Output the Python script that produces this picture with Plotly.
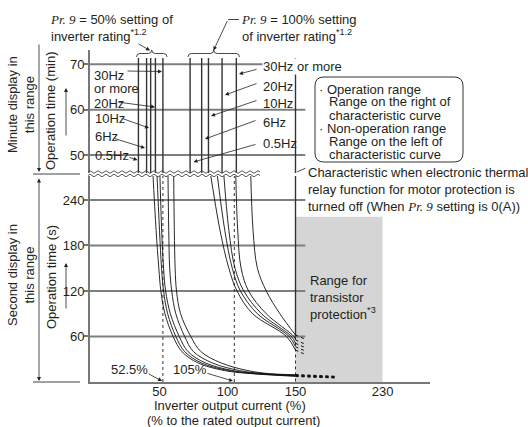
import numpy as np
import plotly.graph_objects as go

# ---------------- data ----------------
x_tick_vals = [50, 100, 150, 230]
y_sec_ticks = [60, 120, 180, 240]
y_min_ticks = [50, 60, 70]
ref_pcts = [52.5, 105]          # dotted reference currents
thermal_off_pct = 150
off_solid_until_s = 60
transistor_range = [150, 230]
transistor_top_s = 218

# minute range: vertical asymptotes (0.5Hz, 6Hz, 10Hz, 20Hz, 30Hz or more)
min_50_x = [34.5, 40.5, 43.5, 47.0, 52.5]
min_100_x = [72.5, 81.0, 86.0, 96.0, 106.5]
min_top = 71.4

# second range, Pr.9 = 50 % family
c50_t = [
    [280, 200, 150, 120, 90, 60, 40, 25, 15, 11, 7.5],
    [280, 200, 150, 120, 90, 60, 40, 25, 15, 11, 8.0],
    [280, 200, 150, 120, 90, 60, 40, 25, 15, 11, 8.5],
    [280, 200, 150, 120, 90, 60, 40, 25, 15, 11, 9.0],
    [280, 200, 150, 120, 90, 60, 40, 25, 15, 11, 9.6],
]
c50_x = [
    [45.0, 47.5, 49.5, 51.0, 54.0, 60.0, 66.5, 78.5, 98, 118, 150],
    [48.0, 50.0, 51.5, 53.0, 56.0, 62.0, 68.5, 81.0, 101, 120.5, 150],
    [50.2, 51.6, 53.0, 54.5, 58.0, 64.5, 71.0, 84.0, 104, 123, 150],
    [56.2, 56.8, 57.5, 59.0, 62.0, 68.5, 75.0, 89.0, 109, 127, 150],
    [60.4, 60.9, 61.5, 62.5, 65.5, 73.0, 80.5, 95.5, 115, 131, 150],
]
c50_tail_x = [150, 188]
c50_tail_drop = 2.2

# second range, Pr.9 = 100 % family
c100_t = [
    [280, 200, 150, 120, 90, 60, 42],
    [280, 200, 150, 120, 90, 60, 46.5],
    [280, 200, 150, 120, 90, 60, 51],
    [280, 200, 150, 120, 90, 60, 55.5],
    [280, 200, 150, 120, 90, 62],
]
c100_x = [
    [87.0, 94.5, 101.0, 107.0, 118.5, 143.4, 150],
    [92.0, 98.0, 103.5, 109.5, 122.0, 145.3, 150],
    [97.0, 101.0, 105.5, 112.0, 125.0, 147.0, 150],
    [106.0, 107.5, 110.0, 115.5, 128.5, 148.8, 150],
    [117.0, 118.8, 122.0, 128.5, 138.5, 150],
]
c100_tail_x = [150, 158]
c100_tail_drop = 5

grid_end_pct = 159

# ---------------- helpers ----------------
def xd(v):
    """axis is compressed beyond 150 % (as in the original drawing)"""
    v = np.asarray(v, dtype=float)
    return np.where(v <= 150, v, 150 + (v - 150) * 0.8)

L, R, T, B = 90, 430, 50, 382
W, H = 528, 427
X0, X1 = -1.1, 248.9
Y_SEC = [0, 271.6]
Y_MIN = [46.03, 73.16]
dom_sec = [0, (B - 176) / (B - T)]
dom_min = [(B - 173) / (B - T), 1]


def P(px, py):
    return (px - L) / (R - L), (B - py) / (B - T)


FONT = "Liberation Sans, Arial, sans-serif"
INK = "#231f20"
GRID = "#7f7f7f"

fig = go.Figure()

# top panel verticals
for xs in (min_50_x, min_100_x):
    for v in xs:
        fig.add_trace(go.Scatter(x=xd([v, v]), y=[min_top, Y_MIN[0]], mode="lines",
                                 line=dict(color="#333", width=1.4),
                                 xaxis="x2", yaxis="y2", hoverinfo="skip"))
fig.add_trace(go.Scatter(x=xd([thermal_off_pct] * 2), y=[min_top, Y_MIN[0]], mode="lines",
                         line=dict(color="#333", width=1.4), xaxis="x2", yaxis="y2"))

# bottom panel: thermal off line
fig.add_trace(go.Scatter(x=xd([thermal_off_pct] * 2), y=[Y_SEC[1], off_solid_until_s], mode="lines",
                         line=dict(color="#333", width=1.4)))
fig.add_trace(go.Scatter(x=xd([thermal_off_pct] * 2), y=[off_solid_until_s, 0], mode="lines",
                         line=dict(color="#333", width=1, dash="dot")))
for v in ref_pcts:
    fig.add_trace(go.Scatter(x=xd([v, v]), y=[0, Y_SEC[1]], mode="lines",
                             line=dict(color="#333", width=1, dash="dot")))

# curves
for xs, ts in zip(c50_x, c50_t):
    fig.add_trace(go.Scatter(x=xd(xs), y=ts, mode="lines",
                             line=dict(color="#111", width=0.9, shape="spline", smoothing=1.0)))
    fig.add_trace(go.Scatter(x=xd(c50_tail_x), y=[ts[-1], ts[-1] - c50_tail_drop], mode="lines",
                             line=dict(color="#111", width=1.2, dash="dot")))
for xs, ts in zip(c100_x, c100_t):
    fig.add_trace(go.Scatter(x=xd(xs), y=ts, mode="lines",
                             line=dict(color="#111", width=0.9, shape="spline", smoothing=1.0)))
    fig.add_trace(go.Scatter(x=xd(c100_tail_x), y=[ts[-1], ts[-1] - c100_tail_drop], mode="lines",
                             line=dict(color="#111", width=1, dash="dot")))

# shapes: shading + gridlines
fig.add_shape(type="rect", xref="x", yref="y", x0=float(xd(transistor_range[0])),
              x1=float(xd(transistor_range[1])), y0=0, y1=transistor_top_s,
              fillcolor="#d5d5d5", line=dict(width=0), layer="below")
for v in y_sec_ticks:
    fig.add_shape(type="line", xref="x", yref="y", x0=X0, x1=float(xd(grid_end_pct)), y0=v, y1=v,
                  line=dict(color=GRID, width=2), layer="below")
for v in y_min_ticks:
    fig.add_shape(type="line", xref="x2", yref="y2", x0=X0, x1=float(xd(grid_end_pct)), y0=v, y1=v,
                  line=dict(color=GRID, width=2), layer="below")


def path_paper(points, cmds):
    s = ""
    i = 0
    for c in cmds:
        if c in "ML":
            x, y = P(*points[i]); i += 1
            s += f"{c}{x:.5f},{y:.5f} "
        elif c == "Q":
            x1, y1 = P(*points[i]); x2, y2 = P(*points[i + 1]); i += 2
            s += f"Q{x1:.5f},{y1:.5f} {x2:.5f},{y2:.5f} "
        elif c == "Z":
            s += "Z"
    return s


def wave(py, x0=88, x1=263, half=4, amp=1.3):
    pts = [(x0, py)]
    cmds = ["M"]
    x = x0
    sgn = -1
    while x + half <= x1:
        pts += [(x + half / 2, py + sgn * amp * 2), (x + half, py)]
        cmds.append("Q")
        x += half
        sgn = -sgn
    return path_paper(pts, cmds)


for py in (172, 175.5):
    fig.add_shape(type="path", xref="paper", yref="paper", path=wave(py),
                  line=dict(color="#444", width=0.9))


def brace(x0, x1, y, h=3.5):
    xm = (x0 + x1) / 2
    pts = [(x0, y + h), (x0, y), (x0 + h, y), (xm - h, y), (xm, y), (xm, y - h),
           (xm, y), (xm + h, y), (x1 - h, y), (x1, y), (x1, y + h)]
    return path_paper(pts, ["M", "Q", "L", "Q", "Q", "L", "Q"])


fig.add_shape(type="path", xref="paper", yref="paper", path=brace(136.5, 167, 53.5),
              line=dict(color="#333", width=0.9))
fig.add_shape(type="path", xref="paper", yref="paper", path=brace(188, 239.5, 53.5),
              line=dict(color="#333", width=0.9))


def rrect(x0, y0, x1, y1, r=9):
    pts = [(x0 + r, y0), (x1 - r, y0), (x1, y0), (x1, y0 + r), (x1, y1 - r), (x1, y1), (x1 - r, y1),
           (x0 + r, y1), (x0, y1), (x0, y1 - r), (x0, y0 + r), (x0, y0), (x0 + r, y0)]
    return path_paper(pts, ["M", "L", "Q", "L", "Q", "L", "Q", "L", "Q", "Z"])


fig.add_shape(type="path", xref="paper", yref="paper", path=rrect(315, 77, 463, 162),
              line=dict(color="#333", width=1))


def hline(x0, x1, py, color="#444", width=1):
    a, b = P(x0, py)
    c, d = P(x1, py)
    fig.add_shape(type="line", xref="paper", yref="paper", x0=a, y0=b, x1=c, y1=d,
                  line=dict(color=color, width=width))


hline(33, 80, 174)
hline(33, 80, 382)
hline(228, 239, 19.5, color="#333", width=0.9)


def arrow(tail, head, head_style=2, both=False, width=0.8):
    x, y = P(*head)
    fig.add_annotation(x=x, y=y, xref="paper", yref="paper", ax=tail[0] - head[0], ay=tail[1] - head[1],
                       axref="pixel", ayref="pixel", text="", showarrow=True, arrowhead=head_style,
                       startarrowhead=head_style, arrowside="end+start" if both else "end",
                       arrowsize=1, startarrowsize=1, arrowwidth=width, arrowcolor="#222")


def label(px, py, text, xanchor="left", size=13, angle=0, bg=None, align="left"):
    x, y = P(px, py)
    kw = {}
    if bg:
        kw["bgcolor"] = bg
    fig.add_annotation(x=x, y=y, xref="paper", yref="paper", text=text, showarrow=False,
                       xanchor=xanchor, yanchor="middle", textangle=angle, align=align,
                       font=dict(family=FONT, size=size, color=INK), borderpad=0, **kw)


PR = "<span style=\"font-family:'Liberation Serif',serif;font-style:italic\">Pr. 9</span>"

# left side brackets / titles
arrow((39, 43), (39, 172))
arrow((39, 177), (39, 381), both=True)
label(21, 105, "Minute display in<br>this range", xanchor="center", angle=-90, align="center")
label(21, 275, "Second display in<br>this range", xanchor="center", angle=-90, align="center")
label(51, 111, "Operation time (min)", xanchor="center", angle=-90)
label(51, 277, "Operation time (s)", xanchor="center", angle=-90)
arrow((66, 137), (66, 88))
arrow((66, 310), (66, 263))

# top headers
label(49, 28, PR + " = 50% setting of<br>inverter rating<sup>*1.2</sup>")
arrow((137, 43), (150, 50.5))
label(240, 28, PR + " = 100% setting<br>of inverter rating<sup>*1.2</sup>")
arrow((228, 19.5), (213.5, 50.5))

# left Hz labels
label(93, 75, "30Hz")
label(93, 88, "or more")
label(93, 103, "20Hz")
label(94, 118, "10Hz")
label(94, 136, "6Hz")
label(94, 155, "0.5Hz")
arrow((126, 71), (162, 71.5))
arrow((117, 102), (155, 107))
arrow((121, 118), (149, 128))
arrow((113, 138), (145, 148))
arrow((128, 157), (137.5, 160))

# right Hz labels
label(262, 67, "30Hz or more", bg="white")
label(262, 86, "20Hz")
label(262, 103, "10Hz")
label(262, 123, "6Hz")
label(262, 143, "0.5Hz")
arrow((258, 69), (239, 74))
arrow((258, 83), (225, 95))
arrow((258, 100), (211, 116))
arrow((257, 120), (205, 139))
arrow((257, 144), (193.5, 162))

# legend box text
label(318, 89, "· Operation range")
label(328, 102, "Range on the right of")
label(328, 115, "characteristic curve")
label(318, 128, "· Non-operation range")
label(328, 141, "Range on the left of")
label(328, 154, "characteristic curve")

label(307, 189, "Characteristic when electronic thermal<br>relay function for motor protection is<br>"
                "turned off (When " + PR + " setting is 0(A))")
arrow((307, 167.5), (297, 172), head_style=0)

label(309, 297, "Range for<br>transistor<br>protection<sup>*3</sup>")

label(129, 369, "52.5%", xanchor="center")
label(190, 369, "105%", xanchor="center")
arrow((147, 373), (162, 381))
arrow((206, 373), (233, 381))

label(230, 405, "Inverter output current (%)", xanchor="center")
label(233, 420, "(% to the rated output current)", xanchor="center")

axis_common = dict(showline=True, linecolor="#777", linewidth=2, showgrid=False, zeroline=False,
                   tickfont=dict(family=FONT, size=13, color=INK))
fig.update_layout(
    width=W, height=H, margin=dict(l=L, r=W - R, t=T, b=H - B),
    plot_bgcolor="white", paper_bgcolor="white", showlegend=False,
    font=dict(family=FONT, size=13, color=INK),
    xaxis=dict(domain=[0, 1], range=[X0, X1], anchor="y", ticks="", ticklabelstandoff=-4,
               tickvals=[float(v) for v in xd(x_tick_vals)], ticktext=[str(v) for v in x_tick_vals],
               **axis_common),
    yaxis=dict(domain=dom_sec, range=Y_SEC, anchor="x", ticks="outside", ticklen=4, tickwidth=2,
               tickcolor="#777", tickvals=y_sec_ticks, ticklabelstandoff=-3, **axis_common),
    xaxis2=dict(domain=[0, 1], range=[X0, X1], anchor="y2", visible=False),
    yaxis2=dict(domain=dom_min, range=Y_MIN, anchor="x2", ticks="outside", ticklen=4, tickwidth=2,
                tickcolor="#777", tickvals=y_min_ticks, ticklabelstandoff=-3, **axis_common),
)
fig.update_traces(hoverinfo="skip")

fig.write_html("out.html", config={"displayModeBar": False},
               post_script="document.body.style.margin='0';document.body.style.overflow='hidden';")
